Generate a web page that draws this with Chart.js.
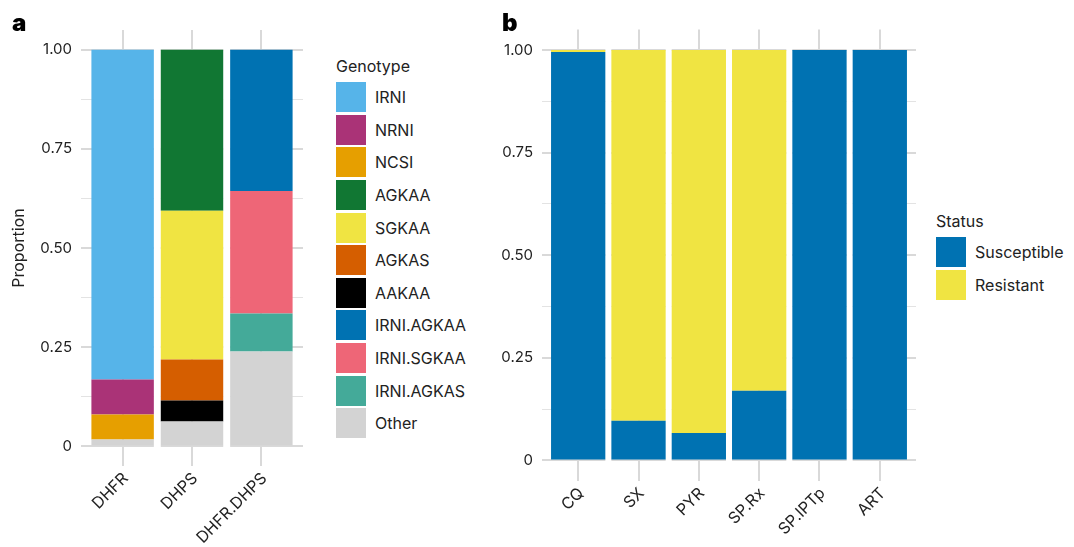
<!DOCTYPE html>
<html>
<head>
<meta charset="utf-8">
<title>Genotype and drug-resistance status proportions</title>
<script src="https://cdn.jsdelivr.net/npm/chart.js@4/dist/chart.umd.min.js"></script>
<style>
  html, body { margin: 0; padding: 0; background: #fff; }
  body { font-family: Inter, "Liberation Sans", sans-serif; color: #222; }
  #fig { position: relative; width: 1074px; height: 547px; overflow: hidden; }
  #fig canvas { position: absolute; top: 0; }
  #chartA { left: 0; }
  #chartB { left: 480px; }
  .panel-tag { position: absolute; font-size: 24px; font-weight: 900; color: #000; line-height: 24px; }
  .legend { position: absolute; }
  .legend .ttl { font-size: 16px; line-height: 20px; height: 20px; margin: 0 0 5px 0; white-space: nowrap; }
  .legend .row { display: flex; align-items: center; height: 32.6px; white-space: nowrap; }
  .legend .sw { width: 30px; height: 30px; margin-right: 9px; flex: none; }
  .legend .lb { font-size: 16px; line-height: 20px; }
</style>
</head>
<body>
<div id="fig">
  <canvas id="chartA" width="320" height="547"></canvas>
  <canvas id="chartB" width="440" height="547"></canvas>
  <div class="panel-tag" style="left:12px;top:11px;">a</div>
  <div class="panel-tag" style="left:502px;top:11px;">b</div>
  <div class="legend" id="legendA" style="left:336px;top:56px;"></div>
  <div class="legend" id="legendB" style="left:936px;top:211px;"></div>
</div>
<script>
// ---- Panel a: genotype proportions per locus ----
const genotypeCategories = ['DHFR', 'DHPS', 'DHFR.DHPS'];

// legend order (top to bottom); stacking runs bottom-up from the end of this list
const genotypeNames = ['IRNI', 'NRNI', 'NCSI', 'AGKAA', 'SGKAA', 'AGKAS', 'AAKAA',
                       'IRNI.AGKAA', 'IRNI.SGKAA', 'IRNI.AGKAS', 'Other'];

const IRNI       = [0.832, 0,     0    ];
const NRNI       = [0.088, 0,     0    ];
const NCSI       = [0.063, 0,     0    ];
const AGKAA      = [0,     0.406, 0    ];
const SGKAA      = [0,     0.375, 0    ];
const AGKAS      = [0,     0.104, 0    ];
const AAKAA      = [0,     0.053, 0    ];
const IRNI_AGKAA = [0,     0,     0.356];
const IRNI_SGKAA = [0,     0,     0.309];
const IRNI_AGKAS = [0,     0,     0.096];
const OTHER      = [0.017, 0.062, 0.239];

const genotypeValues = [IRNI, NRNI, NCSI, AGKAA, SGKAA, AGKAS, AAKAA,
                        IRNI_AGKAA, IRNI_SGKAA, IRNI_AGKAS, OTHER];

// ---- Panel b: resistance status per drug ----
const drugCategories = ['CQ', 'SX', 'PYR', 'SP.Rx', 'SP.IPTp', 'ART'];
const statusNames = ['Susceptible', 'Resistant'];
const susceptible = [0.995, 0.097, 0.067, 0.170, 1.000, 1.000];
const resistant   = [0.005, 0.903, 0.933, 0.830, 0.000, 0.000];

// ---- shared y-axis ticks ----
const yTickValues = [0, 0.25, 0.5, 0.75, 1];
const yTickLabels = ['0', '0.25', '0.50', '0.75', '1.00'];
const yMinorValues = [0.125, 0.375, 0.625, 0.875];

// ---- styling ----
const genotypeColors = ['#56B4E9', '#AA3377', '#E69F00', '#117733', '#F0E442', '#D55E00',
                        '#000000', '#0072B2', '#EE6677', '#44AA99', '#D3D3D3'];
const statusColors = ['#0072B2', '#F0E442'];
const GRID = '#d9d9d9';
const TEXT = '#222222';

Chart.defaults.font.family = 'Inter, "Liberation Sans", sans-serif';
Chart.defaults.color = TEXT;

const isMajor = v => yTickValues.some(t => Math.abs(t - v) < 1e-9);

// paints the gaps between neighbouring bars white, so grid lines only show outside the bars
const gapMask = {
  id: 'gapMask',
  beforeDatasetsDraw(chart) {
    const meta = chart.getDatasetMeta(0);
    const els = meta.data;
    const ys = chart.scales.y;
    const top = ys.getPixelForValue(1) - 1.5;
    const bottom = ys.getPixelForValue(0) + 1.5;
    const ctx = chart.ctx;
    ctx.save();
    ctx.fillStyle = '#ffffff';
    for (let i = 0; i < els.length - 1; i++) {
      const a = els[i], b = els[i + 1];
      const r = a.x + a.width / 2;
      const l = b.x - b.width / 2;
      ctx.fillRect(r, top, l - r, bottom - top);
    }
    ctx.restore();
  }
};

function makeOptions(categories, yWidth, xHeight, padding, yTitle) {
  return {
    responsive: false,
    animation: false,
    devicePixelRatio: 1,
    layout: { padding },
    plugins: { legend: { display: false }, tooltip: { enabled: false } },
    scales: {
      x: {
        type: 'linear',
        min: -0.6,
        max: categories.length - 1 + 0.6,
        stacked: true,
        offset: false,
        afterBuildTicks: s => { s.ticks = categories.map((_, i) => ({ value: i })); },
        afterFit: s => { s.height = xHeight; },
        ticks: {
          autoSkip: false, minRotation: 45, maxRotation: 45, padding: 3, labelOffset: 3,
          font: { size: 16 }, color: TEXT,
          callback: v => categories[v]
        },
        grid: { offset: false, drawTicks: false, color: GRID, lineWidth: 2 },
        border: { display: false }
      },
      y: {
        type: 'linear',
        min: -0.05,
        max: 1.05,
        stacked: true,
        afterBuildTicks: s => {
          s.ticks = yTickValues.concat(yMinorValues).sort((a, b) => a - b).map(v => ({ value: v }));
        },
        afterFit: s => { s.width = yWidth; },
        ticks: {
          padding: 9, font: { size: 15 }, color: TEXT,
          callback: v => {
            const i = yTickValues.findIndex(t => Math.abs(t - v) < 1e-9);
            return i >= 0 ? yTickLabels[i] : '';
          }
        },
        grid: {
          offset: false,
          drawTicks: false,
          color: ctx => (ctx.tick && isMajor(ctx.tick.value)) ? GRID : '#e3e3e3',
          lineWidth: ctx => (ctx.tick && isMajor(ctx.tick.value)) ? 2 : 1
        },
        border: { display: false },
        title: yTitle ? {
          display: true, text: yTitle, font: { size: 16 }, color: TEXT,
          padding: { top: 10, bottom: 0 }
        } : { display: false }
      }
    },
    datasets: { bar: { categoryPercentage: 1, barPercentage: 0.9, borderWidth: 0 } }
  };
}

// stacking goes bottom-up in dataset order, so reverse the legend order
const genotypeDatasets = genotypeNames.map((name, k) => ({
  label: name,
  data: genotypeValues[k].map((v, i) => ({ x: i, y: v })),
  backgroundColor: genotypeColors[k]
})).reverse();

new Chart(document.getElementById('chartA'), {
  type: 'bar',
  data: { datasets: genotypeDatasets },
  options: makeOptions(genotypeCategories, 81, 81, { left: 0, top: 30, right: 17, bottom: 0 }, 'Proportion'),
  plugins: [gapMask]
});

const statusValues = [susceptible, resistant];
const statusDatasets = statusNames.map((name, k) => ({
  label: name,
  data: statusValues[k].map((v, i) => ({ x: i, y: v })),
  backgroundColor: statusColors[k]
}));

new Chart(document.getElementById('chartB'), {
  type: 'bar',
  data: { datasets: statusDatasets },
  options: makeOptions(drugCategories, 62, 66, { left: 0, top: 29.5, right: 4, bottom: 0 }, null),
  plugins: [gapMask]
});

// ---- legends ----
function buildLegend(el, title, names, colors) {
  const t = document.createElement('div');
  t.className = 'ttl';
  t.textContent = title;
  el.appendChild(t);
  names.forEach((n, i) => {
    const row = document.createElement('div');
    row.className = 'row';
    const sw = document.createElement('div');
    sw.className = 'sw';
    sw.style.background = colors[i];
    const lb = document.createElement('div');
    lb.className = 'lb';
    lb.textContent = n;
    row.appendChild(sw);
    row.appendChild(lb);
    el.appendChild(row);
  });
}
buildLegend(document.getElementById('legendA'), 'Genotype', genotypeNames, genotypeColors);
buildLegend(document.getElementById('legendB'), 'Status', statusNames, statusColors);
</script>
</body>
</html>
